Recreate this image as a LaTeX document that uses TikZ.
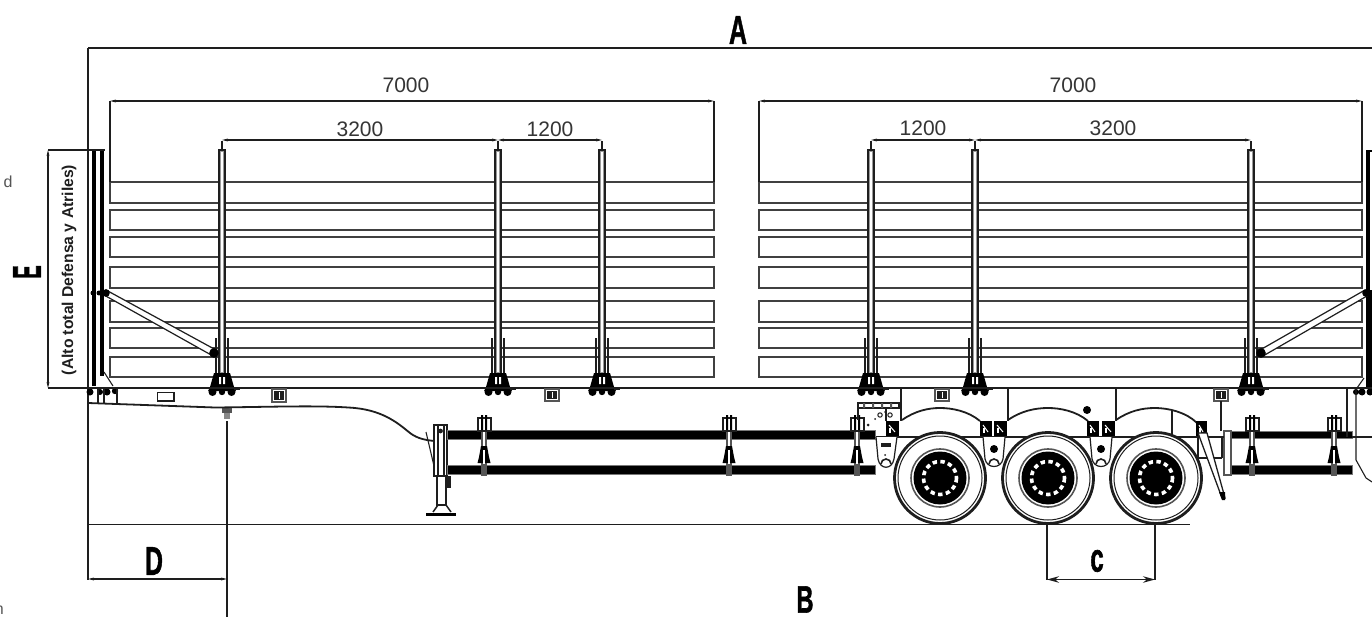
\documentclass[tikz,border=0pt]{standalone}
\usepackage{fontspec}
\setmainfont{Liberation Sans}
\newfontfamily\heavyfont[FakeBold=1.6]{Liberation Sans Bold}
\usetikzlibrary{arrows.meta}
\definecolor{ink}{HTML}{1E1E1E}
\definecolor{grayink}{HTML}{555555}
\tikzset{
  dimline/.style={ink,line width=1.3pt},
  dimsmall/.style={dimline,{Stealth[length=6pt,width=2.8pt]}-{Stealth[length=6pt,width=2.8pt]}},
  dimbig/.style={dimline,{Stealth[length=12pt,width=6.5pt]}-{Stealth[length=12pt,width=6.5pt]}},
  extline/.style={ink,line width=1.4pt},
  panelbox/.style={draw=ink!85,line width=1.4pt},
  frameline/.style={ink,line width=1.8pt},
  thin part/.style={ink,line width=1.1pt},
  numlabel/.style={inner sep=0pt,text=ink!90,font=\fontsize{21}{22}\selectfont},
  bigletter/.style={inner sep=0pt,text=black,font=\fontsize{40}{40}\heavyfont},
  railblack/.style={fill=black,draw=ink!60,line width=.9pt},
}
\newcommand{\stake}[1]{%
  \fill[grayink!60] (#1-3,149) rectangle (#1+3,376);
  \draw[ink,line width=2.4pt] (#1-3,150) -- (#1-3,376) (#1+3,150) -- (#1+3,376);
  \draw[ink,line width=1.4pt] (#1-4,150) -- (#1+4,150);
  \fill[white] (#1-1.2,152) rectangle (#1+1.2,372);
  \draw[ink,line width=1.2pt] (#1,141) -- (#1,149);
  \draw[ink,line width=1.8pt] (#1-6,338) -- (#1-6,376) (#1+6,338) -- (#1+6,376);
  \fill[black] (#1-8,373) -- (#1+8,373) -- (#1+12,387) -- (#1+14,391) -- (#1-14,391) -- (#1-12,387) -- cycle;
  \fill[white] (#1-3,377) rectangle (#1-1,384) (#1+1,377) rectangle (#1+3,384);
  \fill[black] (#1-9.5,392) circle (4) (#1,392) circle (3.2) (#1+9.5,392) circle (4);
  \fill[ink] (#1+12,387) rectangle (#1+18,390);
}
\newcommand{\wheel}[1]{%
  \fill[white] (#1,478) circle (46);
  \draw[ink,line width=2.8pt] (#1,478) circle (45.5);
  \draw[ink,line width=1pt] (#1,478) circle (42);
  \draw[grayink,line width=1.6pt] (#1,478) circle (29);
  \fill[black] (#1,478) circle (26.5);
  \draw[white,line width=3.6pt,dash pattern=on 4.4pt off 3.4pt] (#1,478) circle (16.5);
  \fill[black] (#1,478) circle (10);
}
\newcommand{\railbracket}[1]{%
  \fill[grayink] (#1-3,430) rectangle (#1+3,476);
  \fill[white] (#1-1.3,430) rectangle (#1+1.3,464);
  \fill[black] (#1-3,446) -- (#1-5,457) -- (#1-6.5,463) -- (#1+6.5,463) -- (#1+5,457) -- (#1+3,446) -- cycle;
  \fill[white] (#1-1,450) rectangle (#1+1,464);
  \draw[ink,line width=2pt] (#1-6.5,418) rectangle (#1+6.5,431);
  \fill[black] (#1-3,415) rectangle (#1-1,430) (#1+1,415) rectangle (#1+3,430);
}
\newcommand{\hanger}[1]{%
  \draw[ink,line width=1.2pt,fill=white] (#1-11,437) -- (#1-9,459) .. controls (#1-7,469) and (#1+7,469) .. (#1+9,459) -- (#1+11,437);
  \fill[black] (#1,449) circle (4);
  \draw[ink,line width=1.6pt] (#1-5,464) arc (180:360:5);
}
\newcommand{\blockbox}[2]{%
  \fill[black] (#1,421) rectangle (#2,436);
  \draw[white,line width=1pt] (#1+3,425) -- (#2-4,432);
  \fill[white] (#1+3,428) rectangle (#1+5,433);
}
\newcommand{\bedclip}[2]{%
  \draw[grayink,line width=1.5pt] (#1-7,389) rectangle (#1+7,#2);
  \fill[ink] (#1-5,391) rectangle (#1+5,#2-2);
  \fill[white] (#1-.5,392) rectangle (#1+.5,#2-3);
}
\begin{document}
\begin{tikzpicture}[x=1pt,y=-1pt]
\useasboundingbox (0,0) rectangle (1372,617);
\fill[white] (0,0) rectangle (1372,617);

% cargo panels
\foreach \a/\b in {182/203,210/230,237/257,267/288,301/322,328/348,357/377}{
  \draw[panelbox] (110,\a) rectangle (714,\b);
  \draw[panelbox] (759,\a) rectangle (1362,\b);
}

% dimension extension lines
\draw[extline] (88,48) -- (88,580);
\draw[extline] (88,48) -- (1372,48);
\draw[extline,line width=1.2pt] (110,101) -- (110,182) (714,101) -- (714,182) (759,101) -- (759,182) (1362,101) -- (1362,182);
\draw[dimsmall] (110,101) -- (714,101);
\draw[dimsmall] (759,101) -- (1362,101);
\draw[dimsmall] (222,140) -- (498,140);
\draw[dimsmall] (498,140) -- (602,140);
\draw[dimsmall] (871,140) -- (975,140);
\draw[dimsmall] (975,140) -- (1251,140);

% E dimension
\draw[extline] (48,150) -- (92,150) (48,388) -- (90,388);
\draw[dimsmall] (48,150) -- (48,388);

% stakes
\foreach \s in {222,498,602,871,975,1251}{\stake{\s}}

% left bulkhead
\fill[white] (90,150) rectangle (105,388);
\draw[black,line width=4.4pt] (94,150) -- (94,386);
\draw[black,line width=3.8pt] (102,150) -- (102,376);
\draw[ink,line width=1.2pt] (90,150) -- (105,150);
\draw[ink,line width=1.1pt] (104,372) -- (113,386);
\draw[ink,line width=1.2pt,fill=white] (106,290) -- (216,350) -- (213,356) -- (104,295) -- cycle;
\fill[black] (93,293) circle (2.5) (99,293) circle (2.5) (106,293) circle (3.8) (214,353) circle (4.8);
\fill[black] (90,392) circle (3.5) (100,392) circle (3) (107,392) circle (3.5) (115,391) circle (3.2);

% right bulkhead
\fill[black] (1366,150) rectangle (1372,388);
\fill[white] (1370,152) rectangle (1372,290);
\draw[ink,line width=1.2pt,fill=white] (1365,290) -- (1260,350) -- (1263,356) -- (1367,296) -- cycle;
\fill[black] (1366,293) circle (3.8) (1261,353) circle (4.8);
\draw[thin part] (1357,388) -- (1364,378);
\fill[black] (1356,392) circle (3) (1362,392) circle (3.5) (1370,392) circle (3.5);

% deck line
\draw[ink,line width=2.2pt] (88,388) -- (1372,388);

% left end of the chassis
\draw[thin part] (98,388) -- (98,403) (104,388) -- (104,403) (117,388) -- (117,403);
\draw[ink,line width=1.8pt] (157.5,392.5) rectangle (174,401);
\bedclip{279}{402}
\bedclip{552}{401}
\bedclip{942}{401}
\bedclip{1221}{401}
\fill[grayink] (222,407) rectangle (232,413);
\fill[grayink!70] (224,413) rectangle (230,419);
\draw[frameline] (88,403) -- (215,407.5) .. controls (270,407) and (320,405) .. (355,408)
  .. controls (385,411) and (400,425) .. (410,433) .. controls (418,439) and (426,440) .. (434,441);
\draw[thin part] (426,432) -- (434,466);

% landing gear
\draw[ink,line width=1.3pt,fill=white] (437,476) rectangle (446,505);
\draw[ink,line width=1.7pt,fill=white] (434,425) rectangle (447,476);
\draw[ink,line width=1.1pt] (438,425) -- (438,476) (444,425) -- (444,476);
\fill[ink] (440.5,431) circle (2.4);
\fill[ink] (447,476) rectangle (451,488);
\draw[ink,line width=1.5pt,fill=white] (433,512) -- (438,505) -- (446,505) -- (451,512);
\fill[black] (426,512.5) -- (456,512.5) -- (456,515.5) -- (426,515.5) -- cycle;

% under-side rails, left
\draw[railblack] (447,430.5) rectangle (875,439.5);
\draw[railblack] (447,465.5) rectangle (875,474.5);
\foreach \r in {484,729,857}{\railbracket{\r}}

% under-side rails, right
\draw[railblack] (1230,431) rectangle (1352,438.5);
\draw[railblack] (1230,465) rectangle (1352,474);
\foreach \r in {1252,1334}{\railbracket{\r}}
\draw[grayink,line width=1.2pt,fill=white] (1224,431) rectangle (1231,475);

% suspension frame
\draw[ink,line width=1.7pt] (876,437) -- (1224,437);
\draw[ink,line width=1.7pt] (901,388) -- (901,421) (1008,388) -- (1008,421) (1116,388) -- (1116,421);
\draw[ink,line width=1.8pt] (902,420) .. controls (915,411) and (928,408) .. (940,408) .. controls (952,408) and (968,411) .. (980,421);
\draw[ink,line width=1.8pt] (1008,420) .. controls (1021,411) and (1035,408) .. (1048,408) .. controls (1060,408) and (1076,411) .. (1088,421);
\draw[ink,line width=1.8pt] (1116,420) .. controls (1129,411) and (1142,408) .. (1155,408) .. controls (1168,408) and (1186,412) .. (1197,423);
\draw[thin part] (1172,410) -- (1172,437);
\fill[black] (1087,410) circle (4);
\draw[thin part] (1221,401) -- (1221,431);
\blockbox{886}{899}
\blockbox{980}{992}
\blockbox{994}{1007}
\blockbox{1087}{1099}
\blockbox{1102}{1115}
\blockbox{1196}{1207}

% front axle plate
\draw[thin part] (886,421) -- (886,408) -- (858,408) -- (858,420);
\draw[ink,line width=1.3pt] (858,403) rectangle (899,408);
\fill[grayink] (863,403) rectangle (865,408) (872,403) rectangle (874,408) (881,403) rectangle (883,408) (890,403) rectangle (892,408);
\draw[ink,line width=1pt] (880,415) circle (2.2) (890,415) circle (2.2);
\fill[ink] (868,425) circle (1.5) (875,419) circle (1) (885,412) circle (1);
\draw[ink,line width=1.2pt,fill=white] (876,437) -- (878,459) .. controls (880,470) and (892,470) .. (894,459) -- (897,437);
\fill[ink] (881,443) rectangle (891,447);
\fill[ink] (885,455) circle (1);
\draw[ink,line width=1.6pt] (881,464) arc (180:360:5);
\hanger{994}
\hanger{1101}

% mudflap and its bracket
\draw[thin part] (1198,437) -- (1198,458) -- (1222,458) (1222,437) -- (1222,458);
\draw[ink,line width=1.3pt,fill=white] (1198,433) -- (1222,498) -- (1225,498) -- (1207,433) -- cycle;
\fill[black] (1219,492) -- (1225,492) -- (1225,500) -- (1222,500) -- cycle;

% wheels
\foreach \w in {940,1048,1156}{\wheel{\w}}

% right end of the chassis
\draw[thin part] (1347,388) -- (1347,437);
\draw[thin part] (1356,388) -- (1356,460) -- (1366,478) -- (1372,482);
\draw[thin part] (1352,437) -- (1372,437);

% ground line and lower dimensions
\draw[extline,line width=1.5pt] (88,524.5) -- (1190,524.5);
\draw[extline] (227,421) -- (227,617);
\draw[dimsmall] (88,579) -- (227,579);
\draw[extline] (1047,524.5) -- (1047,580) (1155,524.5) -- (1155,580);
\draw[dimbig] (1047,579.5) -- (1155,579.5);

% labels
\node[bigletter] (lblA) at (738,30) {\scalebox{.62}[1]{A}};
\node[bigletter,font=\fontsize{38}{38}\heavyfont] (lblB) at (805,599.5) {\scalebox{.62}[1]{B}};
\node[bigletter] (lblC) at (1097,561) {\scalebox{.6}[1]{c}};
\node[bigletter] (lblD) at (154,561) {\scalebox{.62}[1]{D}};
\node[bigletter,rotate=90] (lblE) at (27,272) {\scalebox{.5}[1]{E}};
\node[numlabel] (dimA) at (406,85.5) {7000};
\node[numlabel] (dimB) at (1073,85) {7000};
\node[numlabel] (dimC) at (360,129) {3200};
\node[numlabel] (dimD) at (550,129) {1200};
\node[numlabel] (dimE) at (923,128) {1200};
\node[numlabel] (dimF) at (1113,128.5) {3200};
\node[inner sep=0pt,rotate=90,text=ink,font=\fontsize{15.7}{16}\selectfont\bfseries] (alto) at (69,270) {(Alto total Defensa y Atriles)};
\node[inner sep=0pt,text=grayink,font=\fontsize{16}{16}\selectfont] (frag1) at (8,182) {d};
\node[inner sep=0pt,text=grayink,font=\fontsize{16}{16}\selectfont,anchor=east] (frag2) at (4,610) {n};
\end{tikzpicture}
\end{document}
